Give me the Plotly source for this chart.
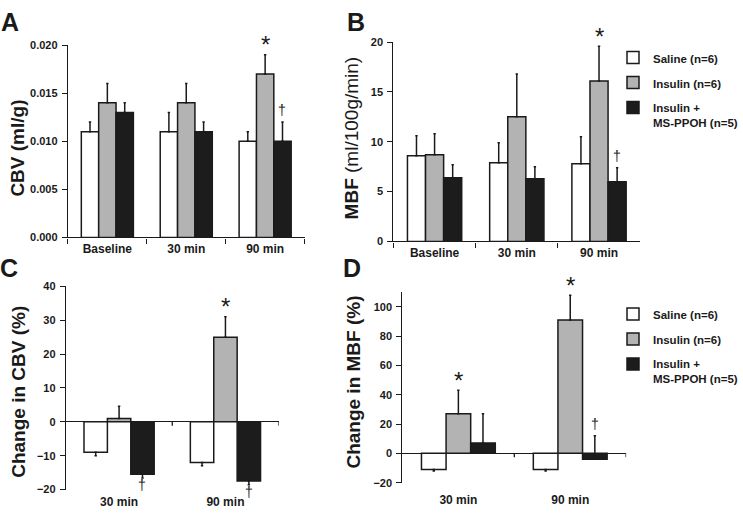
import plotly.graph_objects as go

W, H = 743, 517

# ---------------- data ----------------
cats_ab = ["Baseline", "30 min", "90 min"]
cats_cd = ["30 min", "90 min"]
groups = ["Saline (n=6)", "Insulin (n=6)", "Insulin +<br>MS-PPOH (n=5)"]

cbv_saline = [0.011, 0.011, 0.010]
cbv_saline_err = [0.001, 0.002, 0.001]
cbv_insulin = [0.014, 0.014, 0.017]
cbv_insulin_err = [0.002, 0.002, 0.002]
cbv_ms = [0.013, 0.011, 0.010]
cbv_ms_err = [0.001, 0.001, 0.002]

mbf_saline = [8.6, 7.9, 7.8]
mbf_saline_err = [2.0, 2.0, 2.7]
mbf_insulin = [8.7, 12.5, 16.1]
mbf_insulin_err = [2.1, 4.3, 3.5]
mbf_ms = [6.4, 6.3, 6.0]
mbf_ms_err = [1.3, 1.2, 1.4]

dcbv_saline = [-9.0, -12.0]
dcbv_saline_err = [1.0, 1.0]      # downward
dcbv_insulin = [1.0, 25.0]
dcbv_insulin_err = [3.6, 6.0]     # upward
dcbv_ms = [-15.5, -17.5]
dcbv_ms_err = [1.1, 1.1]          # downward

dmbf_saline = [-11.0, -11.0]
dmbf_saline_err = [1.0, 1.0]      # downward
dmbf_insulin = [27.0, 91.0]
dmbf_insulin_err = [16.0, 17.0]   # upward
dmbf_ms = [7.0, -4.0]
dmbf_ms_err = [20.0, 16.0]        # upward

# significance marks: (panel, category index, series index)
stars = [("A", 2, 1), ("B", 2, 1), ("C", 1, 1), ("D", 0, 1), ("D", 1, 1)]
daggers_up = [("A", 2, 2), ("B", 2, 2), ("D", 1, 2)]
daggers_down = [("C", 0, 2), ("C", 1, 2)]

# ---------------- style ----------------
FONT = "Liberation Sans, Arial, sans-serif"
INK = "#1a1a1a"
fills = ["#ffffff", "#b3b3b3", "#1c1c1c"]

dom = {
    "A": dict(x=[68 / W, 305 / W], y=[1 - 237 / H, 1 - 40 / H]),
    "B": dict(x=[394 / W, 641 / W], y=[1 - 241 / H, 1 - 37 / H]),
    "C": dict(x=[66 / W, 279 / W], y=[1 - 495 / H, 1 - 287 / H]),
    "D": dict(x=[403 / W, 627 / W], y=[1 - 488 / H, 1 - 293 / H]),
}
axes = {"A": ("x", "y"), "B": ("x2", "y2"), "C": ("x3", "y3"), "D": ("x4", "y4")}

fig = go.Figure()

panel_data = {
    "A": (cats_ab, [(cbv_saline, cbv_saline_err, 0), (cbv_insulin, cbv_insulin_err, 0), (cbv_ms, cbv_ms_err, 0)]),
    "B": (cats_ab, [(mbf_saline, mbf_saline_err, 0), (mbf_insulin, mbf_insulin_err, 0), (mbf_ms, mbf_ms_err, 0)]),
    "C": (cats_cd, [(dcbv_saline, dcbv_saline_err, 1), (dcbv_insulin, dcbv_insulin_err, 0), (dcbv_ms, dcbv_ms_err, 1)]),
    "D": (cats_cd, [(dmbf_saline, dmbf_saline_err, 1), (dmbf_insulin, dmbf_insulin_err, 0), (dmbf_ms, dmbf_ms_err, 0)]),
}

for panel, (cats, series) in panel_data.items():
    xa, ya = axes[panel]
    for si, (vals, errs, down) in enumerate(series):
        zeros = [0] * len(errs)
        err = dict(type="data", symmetric=False,
                   array=zeros if down else errs,
                   arrayminus=errs if down else zeros,
                   color=INK, thickness=1.5, width=1.2)
        show = panel in ("B", "D")
        legend = "legend2" if panel == "D" else "legend"
        fig.add_trace(go.Bar(
            x=cats, y=vals, name=groups[si], xaxis=xa, yaxis=ya,
            marker=dict(color=fills[si], line=dict(color=INK, width=1.5)),
            error_y=err, showlegend=show, legend=legend,
            legendgroup=f"{panel}{si}",
        ))

bar_w = (1 - 0.34) / 3

def sig(panel, ci, si, text, up=True, size=24, color=INK, shift=7):
    cats, series = panel_data[panel]
    vals, errs, down = series[si]
    xa, ya = axes[panel]
    if up:
        yv = vals[ci] + (0 if down else errs[ci])
    else:
        yv = vals[ci] - (errs[ci] if down else 0)
    fig.add_annotation(x=ci + (si - 1) * bar_w, y=yv, xref=xa, yref=ya,
                       text=text, showarrow=False, yanchor="middle",
                       yshift=shift if up else -shift,
                       font=dict(family=FONT, size=size, color=color))

for p, ci, si in stars:
    sig(p, ci, si, "*", up=True, size=24, shift=10)
for p, ci, si in daggers_up:
    sig(p, ci, si, "†", up=True, size=14, color=INK, shift=12)
for p, ci, si in daggers_down:
    sig(p, ci, si, "†", up=False, size=14, color=INK, shift=7)

ytickfont = dict(family=FONT, size=11, color=INK, weight="bold")
xtickfont = dict(family=FONT, size=12, color=INK, weight="bold")

def yaxis_common(**kw):
    d = dict(showline=True, linecolor=INK, linewidth=1.3, ticks="outside", ticklen=5,
             tickcolor=INK, tickwidth=1.3, showgrid=False, tickfont=ytickfont,
             ticklabelstandoff=2)
    d.update(kw)
    return d

layout = dict(
    width=W, height=H, margin=dict(l=0, r=0, t=0, b=0),
    paper_bgcolor="white", plot_bgcolor="white",
    barmode="group", bargap=0.34, bargroupgap=0,
    font=dict(family=FONT, color=INK),
    showlegend=True,
)

for panel, (xa, ya) in axes.items():
    xk = "xaxis" + xa[1:]
    cats = panel_data[panel][0]
    if panel in ("A", "B"):
        layout[xk] = dict(domain=dom[panel]["x"], anchor=ya, type="category",
                          range=[-0.5, len(cats) - 0.5], showline=True, linecolor=INK,
                          linewidth=1.3, ticks="outside", tickson="boundaries", ticklen=5,
                          tickcolor=INK, tickwidth=1.3, showgrid=False, tickfont=xtickfont)
    else:
        layout[xk] = dict(domain=dom[panel]["x"], anchor=ya, type="category",
                          range=[-0.5, len(cats) - 0.5], showline=False, ticks="",
                          showgrid=False, tickfont=xtickfont,
                          ticklabelstandoff=3 if panel == "C" else 8)

layout["yaxis"] = yaxis_common(domain=dom["A"]["y"], anchor="x", range=[0, 0.020],
                               tickvals=[0, 0.005, 0.010, 0.015, 0.020], tickformat=".3f",
                               zeroline=False)
layout["yaxis2"] = yaxis_common(domain=dom["B"]["y"], anchor="x2", range=[0, 20],
                                tickvals=[0, 5, 10, 15, 20], zeroline=False)
layout["yaxis3"] = yaxis_common(domain=dom["C"]["y"], anchor="x3", range=[-20, 40],
                                tickvals=[-20, -10, 0, 10, 20, 30, 40], zeroline=True,
                                zerolinecolor=INK, zerolinewidth=1.3)
layout["yaxis4"] = yaxis_common(domain=dom["D"]["y"], anchor="x4", range=[-20, 110],
                                tickvals=[-20, 0, 20, 40, 60, 80, 100], zeroline=True,
                                zerolinecolor=INK, zerolinewidth=1.3)

legfont = dict(family=FONT, size=11.5, color=INK, weight="bold")
layout["legend"] = dict(x=614 / W, y=1 - 38.5 / H, xanchor="left", yanchor="top",
                        font=legfont, tracegroupgap=6, valign="top", bgcolor="rgba(0,0,0,0)")
layout["legend2"] = dict(x=614 / W, y=1 - 301 / H, xanchor="left", yanchor="top",
                         font=legfont, tracegroupgap=6, valign="top", bgcolor="rgba(0,0,0,0)")

fig.update_layout(**layout)

# boundary ticks on zero line for C and D
shapes = []
for panel in ("C", "D"):
    xa, ya = axes[panel]
    n = len(panel_data[panel][0])
    for b in [i + 0.5 for i in range(n)]:
        shapes.append(dict(type="line", xref=xa, yref=ya, x0=b, x1=b,
                           ysizemode="pixel", yanchor=0, y0=0, y1=-4,
                           line=dict(color=INK, width=1.3)))
fig.update_layout(shapes=shapes)

# panel letters
for txt, xp, yp in [("A", 10, 16), ("B", 356, 16), ("C", 9, 268), ("D", 352, 268)]:
    fig.add_annotation(x=xp / W, y=1 - yp / H, xref="paper", yref="paper", text=txt,
                       showarrow=False, xanchor="center", yanchor="middle",
                       font=dict(family=FONT, size=25, color=INK, weight="bold"))

# y-axis titles
for txt, xp, yp, sz in [("CBV (ml/g)", 18, 145, 19),
                        ("<b>MBF</b> (ml/100g/min)", 352, 135, 19),
                        ("Change in CBV (%)", 19, 395, 19),
                        ("Change in MBF (%)", 354, 385, 19)]:
    fig.add_annotation(x=xp / W, y=1 - yp / H, xref="paper", yref="paper", text=txt,
                       showarrow=False, textangle=-90, xanchor="center", yanchor="middle",
                       font=dict(family=FONT, size=sz, color=INK,
                                 weight="normal" if "MBF</b>" in txt else "bold"))

fig.write_html("out.html", config={"displayModeBar": False},
               post_script="document.body.style.margin='0px';")
